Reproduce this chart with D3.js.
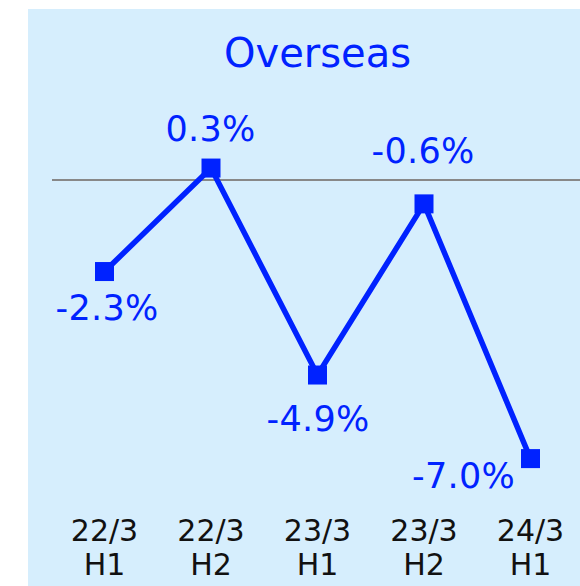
<!DOCTYPE html>
<html><head><meta charset="utf-8">
<script src="https://cdn.jsdelivr.net/npm/d3@7"></script>
<style>html,body{margin:0;padding:0;background:#fff;}svg{display:block;}</style>
</head><body>
<script>
const categories = ["22/3\nH1", "22/3\nH2", "23/3\nH1", "23/3\nH2", "24/3\nH1"];
const values = [-2.3, 0.3, -4.9, -0.6, -7.0];
const valueLabels = ["-2.3%", "0.3%", "-4.9%", "-0.6%", "-7.0%"];
const title = "Overseas";

const W = 580, H = 586;
const blue = "#0022ff";
const font = "DejaVu Sans";
const svg = d3.select("body").append("svg").attr("width", W).attr("height", H);

svg.append("rect").attr("x", 28).attr("y", 9).attr("width", W - 28).attr("height", H - 9).attr("fill", "#d6eefd");

const x = d3.scalePoint().domain(categories).range([104.5, 530.5]);
const y = d3.scaleLinear().domain([-7, 0]).range([458.6, 180]);

svg.append("text").attr("x", 317.5).attr("y", 67).attr("text-anchor", "middle")
  .attr("font-family", font).attr("font-size", 40).attr("fill", blue).text(title);

svg.append("line").attr("x1", 52).attr("x2", W).attr("y1", y(0)).attr("y2", y(0))
  .attr("stroke", "#888").attr("stroke-width", 2);

const line = d3.line().x((d, i) => x(categories[i])).y(d => y(d));
svg.append("path").datum(values).attr("d", line).attr("fill", "none")
  .attr("stroke", blue).attr("stroke-width", 5.5).attr("stroke-linejoin", "miter");

svg.selectAll("rect.m").data(values).enter().append("rect").attr("class", "m")
  .attr("x", (d, i) => x(categories[i]) - 9.5).attr("y", d => y(d) - 9.5)
  .attr("width", 19).attr("height", 19).attr("fill", blue);

// label offsets (dx, baseline dy) relative to marker
const offs = [[2.5, 48], [-0.5, -27.5], [0.5, 56], [-1, -41], [-67, 29]];
svg.selectAll("text.v").data(values).enter().append("text").attr("class", "v")
  .attr("x", (d, i) => x(categories[i]) + offs[i][0]).attr("y", (d, i) => y(d) + offs[i][1])
  .attr("text-anchor", "middle").attr("font-family", font).attr("font-size", 35)
  .attr("letter-spacing", 0.3).attr("fill", blue).text((d, i) => valueLabels[i]);

const ax = svg.append("g");
categories.forEach(c => {
  const parts = c.split("\n");
  const t = ax.append("text").attr("x", x(c)).attr("y", 541).attr("text-anchor", "middle")
    .attr("font-family", font).attr("font-size", 30).attr("fill", "#111");
  parts.forEach((p, j) => t.append("tspan").attr("x", x(c)).attr("dy", j === 0 ? 0 : 34).text(p));
});
</script>
</body></html>
